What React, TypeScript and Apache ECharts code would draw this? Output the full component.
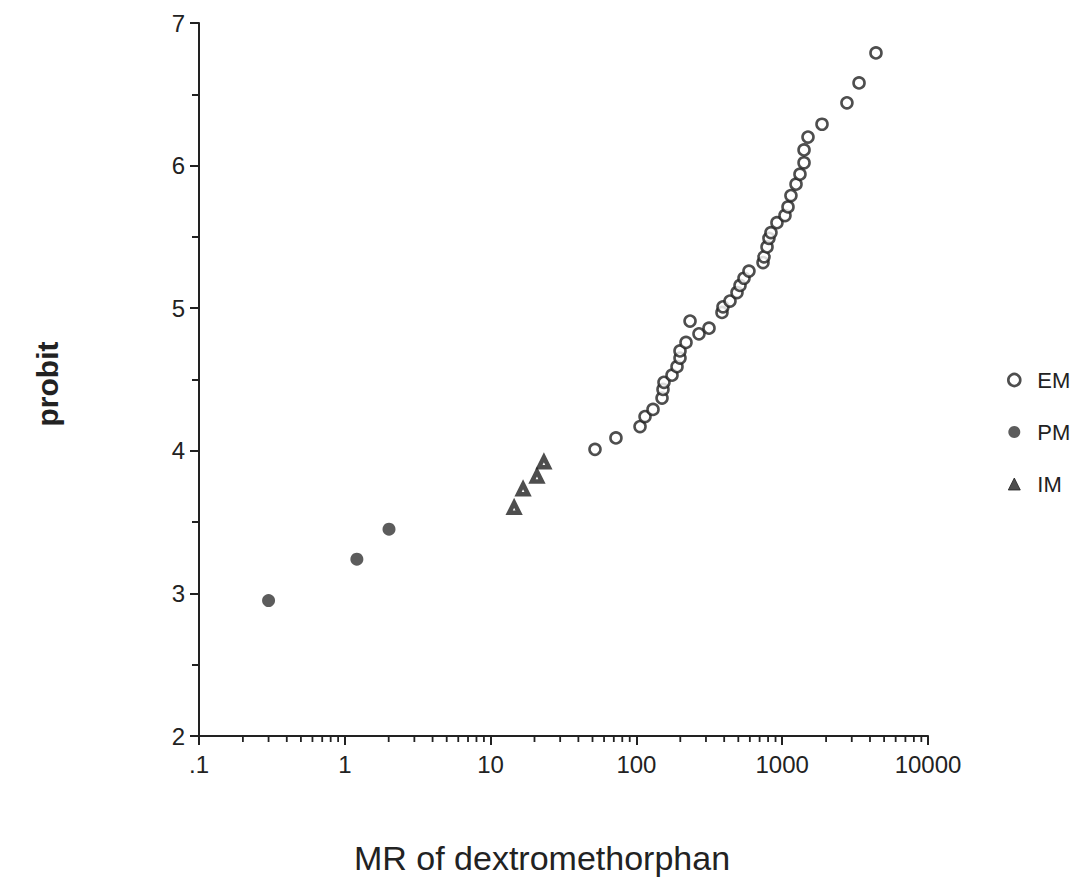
import React, { useEffect, useRef } from "react";
import * as echarts from "echarts";

const emX = [52.0, 72.4, 105.9, 114.6, 130.0, 149.9, 152.2, 154.6, 175.5, 189.9, 199.1, 199.1, 218.9, 268.7, 314.8, 233.3, 386.4, 392.6, 438.5, 489.8, 513.6, 547.0, 591.6, 738.6, 750.3, 786.9, 811.0, 837.5, 920.5, 1045, 1096, 1148, 1244, 1324, 1412, 1412, 1503, 1875, 2780, 3365, 4397];
const emY = [4.01, 4.09, 4.17, 4.24, 4.29, 4.37, 4.43, 4.48, 4.53, 4.59, 4.65, 4.70, 4.76, 4.82, 4.86, 4.91, 4.97, 5.01, 5.05, 5.11, 5.16, 5.21, 5.26, 5.32, 5.36, 5.43, 5.49, 5.53, 5.60, 5.65, 5.71, 5.79, 5.87, 5.94, 6.02, 6.11, 6.20, 6.29, 6.44, 6.58, 6.79];
const pmX = [0.30, 1.21, 2.01];
const pmY = [2.95, 3.24, 3.45];
const imX = [14.5, 16.7, 20.8, 23.2];
const imY = [3.60, 3.73, 3.82, 3.92];
const seriesNames = ["EM", "PM", "IM"];
const xTickLabels: Record<string, string> = { "0.1": ".1", "1": "1", "10": "10", "100": "100", "1000": "1000", "10000": "10000" };
const decades = [0.1, 1, 10, 100, 1000];
const minorMultipliers = [2, 3, 4, 5, 6, 7, 8, 9];

const FONT = "'Liberation Sans', Arial, Helvetica, sans-serif";
const INK = "#222222";

export default function App() {
  const ref = useRef<HTMLDivElement>(null);
  useEffect(() => {
    if (!ref.current) return;
    const chart = echarts.init(ref.current, null, { renderer: "svg" });
    const minorTicks: number[][] = [];
    decades.forEach((d) => minorMultipliers.forEach((m) => minorTicks.push([+(d * m).toPrecision(3), 2])));
    const zip = (xs: number[], ys: number[]) => xs.map((x, i) => [x, ys[i]]);
    chart.setOption({
      animation: false,
      backgroundColor: "#ffffff",
      grid: { left: 199, right: 162, top: 23, bottom: 148, containLabel: false },
      xAxis: {
        type: "log",
        logBase: 10,
        min: 0.1,
        max: 10000,
        splitLine: { show: false },
        axisLine: { show: true, lineStyle: { color: INK, width: 2 } },
        axisTick: { show: true, length: 9, lineStyle: { color: INK, width: 2 } },
        axisLabel: {
          color: INK,
          fontSize: 24,
          fontFamily: FONT,
          margin: 16,
          formatter: (v: number) => {
            const k = String(+v.toPrecision(3));
            return xTickLabels[k] ?? k;
          },
        },
      },
      yAxis: {
        type: "value",
        min: 2,
        max: 7,
        interval: 1,
        splitLine: { show: false },
        axisLine: { show: true, lineStyle: { color: INK, width: 2 } },
        axisTick: { show: true, length: 9, lineStyle: { color: INK, width: 2 } },
        minorTick: { show: true, splitNumber: 2, length: 7, lineStyle: { color: INK, width: 2 } },
        axisLabel: { color: INK, fontSize: 24, fontFamily: FONT, margin: 14 },
      },
      legend: {
        orient: "vertical",
        left: 1002,
        top: 364,
        itemGap: 30,
        itemWidth: 12,
        itemHeight: 12,
        data: [
          { name: seriesNames[0], icon: "circle", itemStyle: { color: "#ffffff", borderColor: INK, borderWidth: 2.6 } },
          { name: seriesNames[1], icon: "circle", itemStyle: { color: "#333333" } },
          { name: seriesNames[2], icon: "triangle", itemStyle: { color: INK, borderColor: INK, borderWidth: 1 } },
        ],
        textStyle: { color: INK, fontSize: 22, fontFamily: FONT, padding: [0, 0, 0, 12] },
      },
      graphic: [
        {
          type: "text",
          x: 47,
          y: 384,
          rotation: Math.PI / 2,
          style: { text: "probit", fill: INK, font: `bold 30px ${FONT}`, align: "center", verticalAlign: "middle" },
        },
        {
          type: "text",
          x: 542,
          y: 858,
          style: { text: "MR of dextromethorphan", fill: INK, font: `34px ${FONT}`, align: "center", verticalAlign: "middle" },
        },
      ],
      series: [
        {
          name: "EM",
          type: "scatter",
          symbol: "circle",
          symbolSize: 11,
          data: zip(emX, emY),
          itemStyle: { color: "#ffffff", borderColor: INK, borderWidth: 2.6 },
        },
        {
          name: "PM",
          type: "scatter",
          symbol: "circle",
          symbolSize: 13,
          data: zip(pmX, pmY),
          itemStyle: { color: "#333333" },
        },
        {
          name: "IM",
          type: "scatter",
          symbol: "triangle",
          symbolSize: 10,
          data: zip(imX, imY),
          itemStyle: { color: "#ffffff", borderColor: INK, borderWidth: 4.5 },
        },
        {
          name: "minorTicks",
          type: "custom",
          silent: true,
          clip: false,
          data: minorTicks,
          renderItem: (_params: any, api: any) => {
            const p = api.coord([api.value(0), api.value(1)]);
            return {
              type: "line",
              shape: { x1: p[0], y1: p[1], x2: p[0], y2: p[1] + 6 },
              style: { stroke: INK, lineWidth: 1.8 },
            };
          },
        },
      ],
    });
    return () => chart.dispose();
  }, []);
  return <div ref={ref} style={{ position: "absolute", left: 0, top: 0, width: 1090, height: 884 }} />;
}
